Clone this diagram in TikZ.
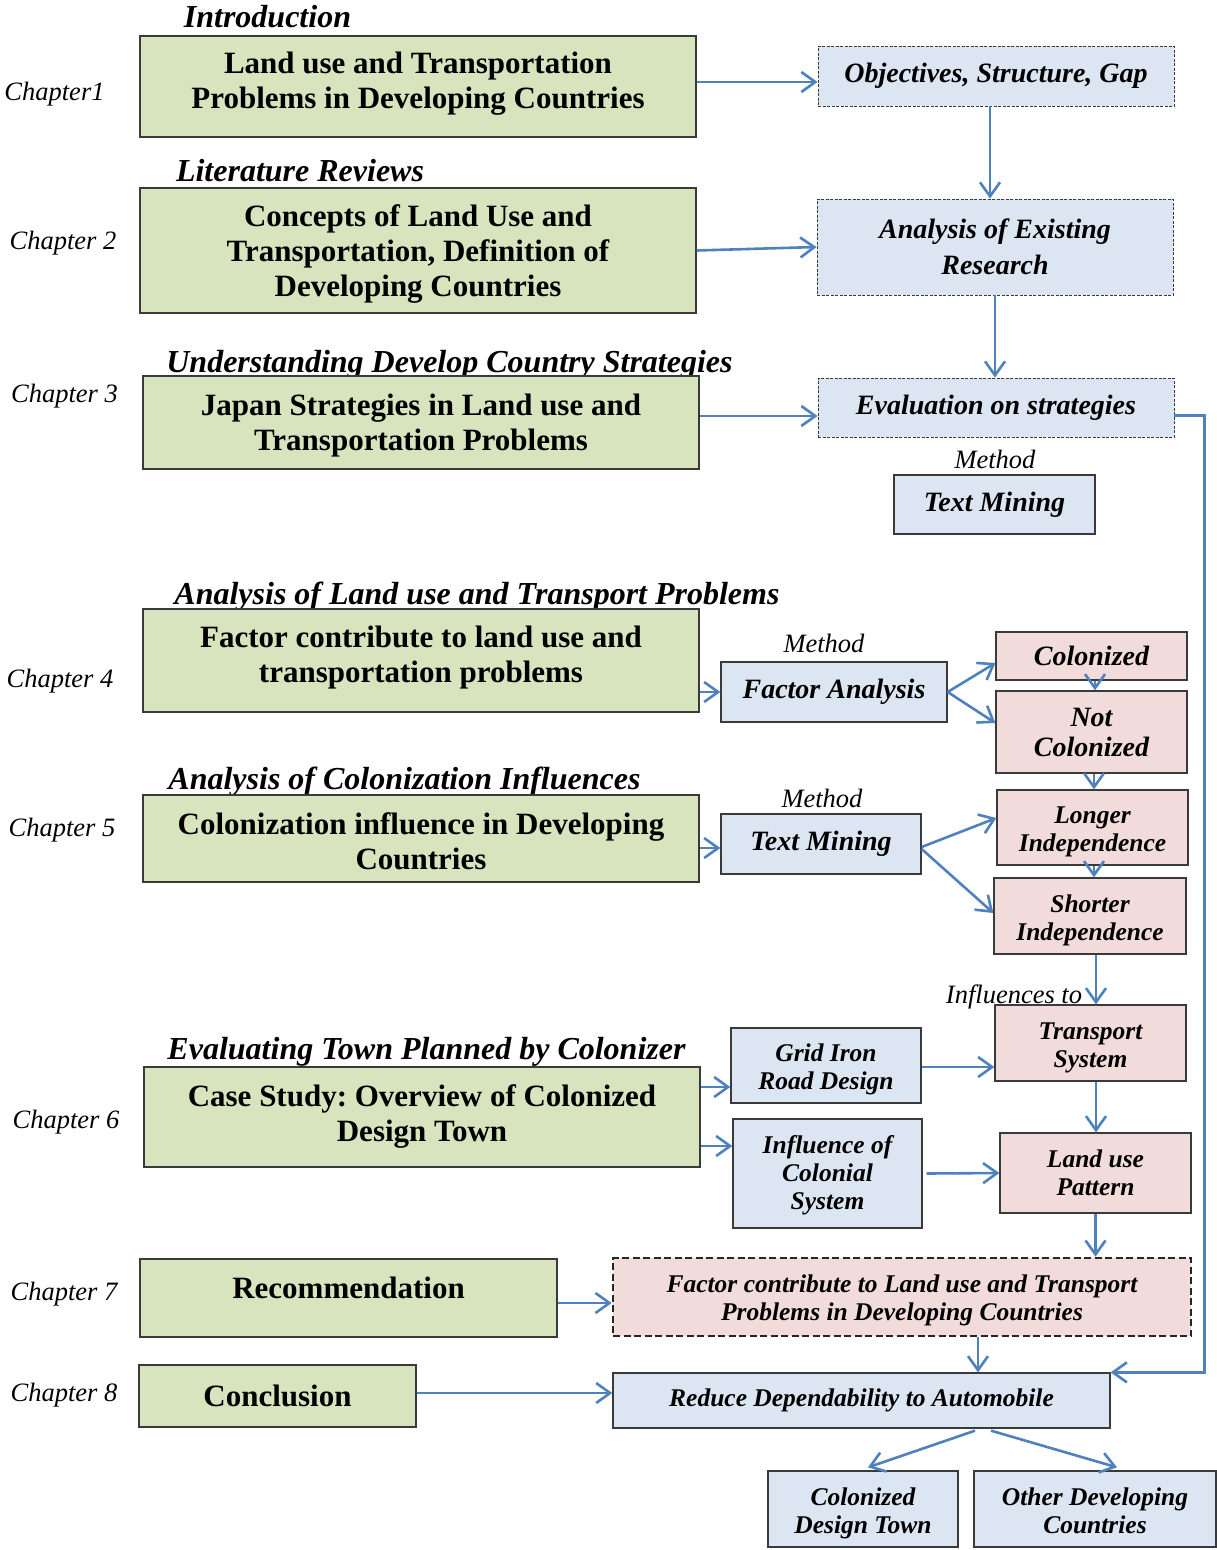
\documentclass[tikz,border=0pt]{standalone}
\usepackage{fontspec}
\setmainfont{Liberation Serif}
\usetikzlibrary{arrows.meta,calc}

\definecolor{grn}{HTML}{D7E4BD}
\definecolor{blu}{HTML}{DCE6F2}
\definecolor{pnk}{HTML}{F2DCDB}
\definecolor{arrowblue}{HTML}{4F81BD}
\definecolor{edgegray}{HTML}{3A3A3A}

% invisible struts that lower a text block slightly inside its box
\newcommand{\gstrut}{\rule{0pt}{28pt}}
\newcommand{\sstrut}{\rule{0pt}{26pt}}

\tikzset{
  box/.style={draw=edgegray, line width=1.3pt, inner sep=0pt, align=center, anchor=center},
  gbox/.style={box, fill=grn, font=\bfseries\fontsize{31}{35}\selectfont},
  bbox/.style={box, fill=blu, font=\bfseries\itshape\fontsize{28}{36}\selectfont},
  dbox/.style={bbox, line width=0.9pt, dash pattern=on 3pt off 1.5pt},
  pbox/.style={box, fill=pnk, font=\bfseries\itshape\fontsize{28}{30}\selectfont},
  smalltext/.style={font=\bfseries\itshape\fontsize{25.5}{28}\selectfont},
  gtext/.style={font=\bfseries\fontsize{31}{35}\selectfont, align=center, inner sep=0pt},
  hdr/.style={font=\bfseries\itshape\fontsize{32}{36}\selectfont, inner sep=0pt, anchor=base},
  chap/.style={font=\itshape\fontsize{26.5}{30}\selectfont, inner sep=0pt, anchor=base},
  flow/.style={draw=arrowblue, line width=2.6pt, -{Straight Barb[length=14pt,width=20pt]}},
}

\begin{document}
\frenchspacing
\begin{tikzpicture}[x=1pt,y=-1pt]
\useasboundingbox (0,0) rectangle (1216,1550);
\fill[white] (0,0) rectangle (1216,1550);

% chapter labels
\node[chap] (c1) at (54.5,100) {Chapter1};
\node[chap] (c2) at (63,249) {Chapter 2};
\node[chap] (c3) at (64.5,402) {Chapter 3};
\node[chap] (c4) at (60,687) {Chapter 4};
\node[chap] (c5) at (62,836) {Chapter 5};
\node[chap] (c6) at (66,1128) {Chapter 6};
\node[chap] (c7) at (64,1300) {Chapter 7};
\node[chap] (c8) at (64,1401) {Chapter 8};

% section headings
\node[hdr] (h1) at (267.5,27) {Introduction};
\node[hdr] (h2) at (300,181) {Literature Reviews};
\node[hdr] (h3) at (449.5,372) {Understanding Develop Country Strategies};
\node[hdr] (h4) at (477,604) {Analysis of Land use and Transport Problems};
\node[hdr] (h5) at (404.5,789) {Analysis of Colonization Influences};
\node[hdr] (h6) at (426.5,1059) {Evaluating Town Planned by Colonizer};

% chapter boxes
\node[gbox, minimum width=556, minimum height=101,
  label={[gtext,yshift=3pt]center:{Land use and Transportation\\Problems in Developing Countries}}]
  (g1) at (418,86.5) {};
\node[gbox, minimum width=556, minimum height=125] (g2) at (418,250.5)
  {\gstrut Concepts of Land Use and\\Transportation, Definition of\\Developing Countries};
\node[gbox, minimum width=556, minimum height=93] (g3) at (421,422.5)
  {\gstrut Japan Strategies in Land use and\\Transportation Problems};
\node[gbox, minimum width=556, minimum height=103,
  label={[gtext,yshift=2.5pt]center:{Factor contribute to land use and\\transportation problems}}]
  (g4) at (421,660.5) {};
\node[gbox, minimum width=556, minimum height=87] (g5) at (421,838.5)
  {\gstrut Colonization influence in Developing\\Countries};
\node[gbox, minimum width=556, minimum height=100,
  label={[gtext,yshift=1pt]center:{Case Study: Overview of Colonized\\Design Town}}]
  (g6) at (422,1117) {};
\node[gbox, minimum width=417, minimum height=78,
  label={[gtext,yshift=10pt]center:{Recommendation}}]
  (g7) at (348.5,1298) {};
\node[gbox, minimum width=277, minimum height=62] (g8) at (277.5,1396) {Conclusion};

% research steps
\node[dbox, minimum width=356, minimum height=60] (b1) at (996,76) {Objectives, Structure, Gap};
\node[dbox, minimum width=356, minimum height=96] (b2) at (995,247) {Analysis of Existing\\Research};
\node[dbox, minimum width=356, minimum height=59] (b3) at (996,407.5) {Evaluation on strategies};
\node[chap] (m1) at (995,468) {Method};
\node[bbox, minimum width=201, minimum height=59] (b4) at (994.5,504.5) {Text Mining};

% chapter 4 and 5 methods
\node[chap] (m2) at (824,652) {Method};
\node[bbox, minimum width=226, minimum height=60] (fa) at (834,692) {Factor Analysis};
\node[pbox, minimum width=191, minimum height=48] (col) at (1091.5,656) {Colonized};
\node[pbox, minimum width=191, minimum height=82] (nc) at (1091.5,732) {Not\\Colonized};
\node[chap] (m3) at (822,807) {Method};
\node[bbox, minimum width=200, minimum height=60] (tm) at (821,844) {Text Mining};
\node[pbox, smalltext, minimum width=191, minimum height=75] (li) at (1092.5,827.5) {\sstrut Longer\\Independence};
\node[pbox, smalltext, minimum width=192, minimum height=76] (si) at (1090,916) {\sstrut Shorter\\Independence};

% chapter 6
\node[chap] (inflab) at (1014,1003) {Influences to};
\node[pbox, smalltext, minimum width=191, minimum height=76] (ts) at (1090.5,1043) {\sstrut Transport\\System};
\node[bbox, smalltext, minimum width=190, minimum height=75] (grid) at (826,1065.5) {\sstrut Grid Iron\\Road Design};
\node[bbox, smalltext, minimum width=189, minimum height=109] (inf) at (827.5,1173.5) {\rule{0pt}{22pt}Influence of\\Colonial\\System};
\node[pbox, smalltext, minimum width=191, minimum height=80] (lu) at (1095.5,1173) {Land use\\Pattern};

% outcomes
\node[pbox, smalltext, draw=black!85, line width=2.6pt, dash pattern=on 7pt off 3.5pt, minimum width=578, minimum height=78]
  (fc) at (902,1297) {\rule{0pt}{24pt}Factor contribute to Land use and Transport\\Problems in Developing Countries};
\node[bbox, smalltext, minimum width=497, minimum height=55] (red) at (861.5,1400.5) {Reduce Dependability to Automobile};
\node[bbox, smalltext, minimum width=190, minimum height=76] (cdt) at (863,1509) {\sstrut Colonized\\Design Town};
\node[bbox, smalltext, minimum width=242, minimum height=76] (odc) at (1095,1509) {\rule{0pt}{22pt}Other Developing\\Countries};

% helper levels for horizontal connectors
\coordinate (ya) at (0,82);
\coordinate (yc) at (0,416);
\coordinate (yd) at (0,848);
\coordinate (ye) at (0,1067);
\coordinate (yf) at (0,1087);
\coordinate (yg) at (0,1146);
\coordinate (yh) at (0,1303);
\coordinate (yi) at (0,1393);
\coordinate (xf) at (978,0);

% connectors
\draw[flow] (g1.east |- ya) -- (b1.west |- ya);
\draw[flow] ([xshift=-6pt]b1.south) -- ([xshift=-5pt]b2.north);
\draw[flow] (g2.east) -- (b2.west);
\draw[flow] (b2.south) -- (b2.south |- b3.north);
\draw[flow] (g3.east |- yc) -- (b3.west |- yc);
\draw[flow] ([yshift=-8pt]b3.east) -- ++(30,0) |- (red.north east);

\draw[flow] (g4.east |- fa.west) -- (fa.west);
\draw[flow] (fa.east) -- ($(col.west)+(0,7)$);
\draw[flow] (fa.east) -- ($(nc.west)+(0,-9)$);
\draw[flow] ([xshift=3.5pt]col.south) -- ([xshift=3.5pt]col.south |- nc.north);
\draw[flow] ([xshift=2.5pt]nc.south) -- ([xshift=2.5pt]nc.south |- li.north);
\draw[flow] ([xshift=1.5pt]li.south) -- ([xshift=1.5pt]li.south |- si.north);

\draw[flow] (g5.east |- yd) -- (tm.west |- yd);
\draw[flow] ($(tm.east)+(0,3)$) -- ($(li.west)+(0,-9.5)$);
\draw[flow] ($(tm.east)+(0,5)$) -- ($(si.west)+(0,-3)$);
\draw[flow] ([xshift=6pt]si.south) -- ([xshift=6pt]si.south |- ts.north);

\draw[flow] (g6.east |- yf) -- (grid.west |- yf);
\draw[flow] (g6.east |- yg) -- (inf.west |- yg);
\draw[flow] (grid.east |- ye) -- (ts.west |- ye);
\draw[flow] ([xshift=4pt]inf.east) -- (lu.west);
\draw[flow] ([xshift=5.5pt]ts.south) -- ([xshift=5.5pt]ts.south |- lu.north);
\draw[flow] (lu.south) -- (lu.south |- fc.north);

\draw[flow] (g7.east |- yh) -- (fc.west |- yh);
\draw[flow] (fc.south -| xf) -- (red.north -| xf);
\draw[flow] (g8.east |- yi) -- (red.west |- yi);
\draw[flow] ($(red.south)+(113.5,2)$) -- ($(cdt.north)+(5,-3)$);
\draw[flow] ($(red.south)+(129.5,2)$) -- ($(odc.north)+(22,-3)$);
\end{tikzpicture}
\end{document}
